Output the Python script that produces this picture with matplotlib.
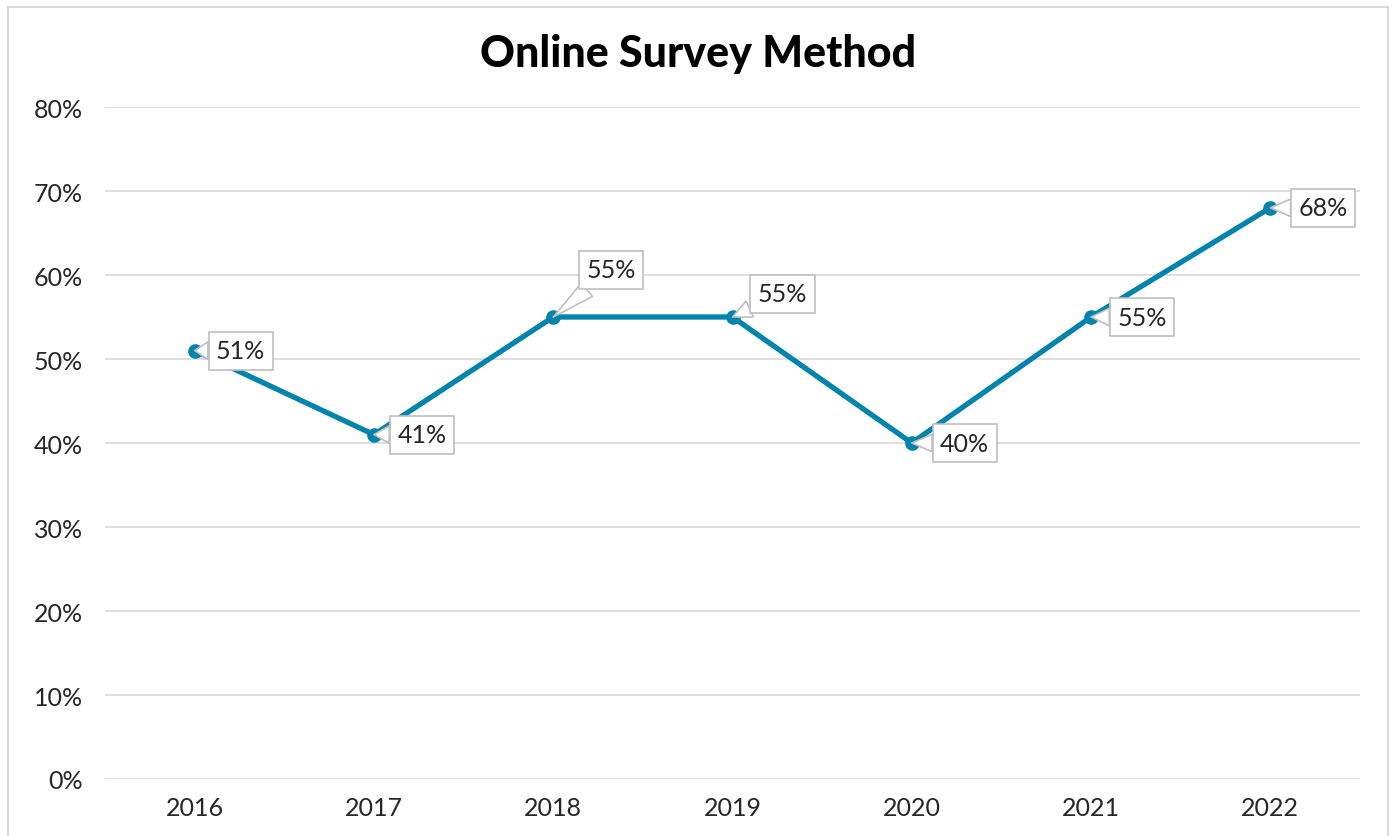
import matplotlib
matplotlib.use("Agg")
import matplotlib.pyplot as plt
from matplotlib.patches import Rectangle
from matplotlib.ticker import PercentFormatter

# ── Data ──────────────────────────────────────────────────────────────────────
years  = ["2016", "2017", "2018", "2019", "2020", "2021", "2022"]
values = [51, 41, 55, 55, 40, 55, 68]
# label offsets from the point (pixels, right/up)
label_dx = [46, 48, 58, 50, 53, 51, 53]
label_dy = [0, 0, 47, 23, 0, 0, 0]

LINE_C = "#0083AD"
GRID_C = "#D9D9D9"
TEXT_C = "#262626"

plt.rcParams["font.family"] = ["Lato", "DejaVu Sans"]

fig = plt.figure(figsize=(13.94, 8.37), dpi=100)
ax = fig.add_axes([105 / 1394, 1 - 780 / 837, 1255 / 1394, 672 / 837])

# outer chart border
fig.patches.append(Rectangle((8 / 1394, -0.05), 1380 / 1394, 1 - 8 / 837 + 0.05,
                             transform=fig.transFigure, fill=False,
                             ec="#D9D9D9", lw=1.5))

x = range(len(years))
ax.plot(x, values, color=LINE_C, lw=3.8, marker="o", ms=9.5, zorder=3)

for i, v in enumerate(values):
    ax.annotate(f"{v}%", xy=(i, v), xytext=(label_dx[i] * 0.72, label_dy[i] * 0.72),
                textcoords="offset points", ha="center", va="center",
                fontsize=18, color=TEXT_C, zorder=5,
                bbox=dict(boxstyle="square,pad=0.3", fc="white", ec="#BFBFBF", lw=1.2),
                arrowprops=dict(arrowstyle="wedge,tail_width=0.7,shrink_factor=0.5",
                                fc="white", ec="#BFBFBF", lw=1.2, shrinkA=0, shrinkB=0))

ax.set_xlim(-0.5, len(years) - 0.5)
ax.set_ylim(0, 80)
ax.set_yticks(range(0, 81, 10))
ax.yaxis.set_major_formatter(PercentFormatter(decimals=0))
ax.set_xticks(list(x))
ax.set_xticklabels(years)
ax.grid(axis="y", color=GRID_C, lw=1.2)
ax.set_axisbelow(True)
for s in ax.spines.values():
    s.set_visible(False)
ax.tick_params(axis="both", length=0, labelsize=18, labelcolor=TEXT_C)
ax.tick_params(axis="y", pad=16)
ax.tick_params(axis="x", pad=12)

fig.text(698 / 1394, 1 - 54 / 837, "Online Survey Method", ha="center", va="center",
         fontsize=31, fontweight="black", color="black")

fig.savefig("out.png", dpi=100)
